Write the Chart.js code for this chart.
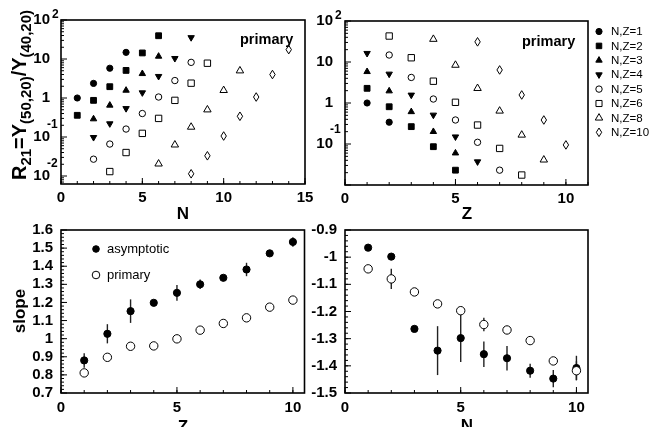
<!DOCTYPE html>
<html><head><meta charset="utf-8">
<script src="https://cdn.jsdelivr.net/npm/chart.js@4.4.1/dist/chart.umd.min.js"></script>
<style>
html,body{margin:0;padding:0;background:#fff;}
#wrap{position:relative;width:650px;height:427px;overflow:hidden;background:#fff;}
#wrap canvas{position:absolute;left:0;top:0;}
</style></head><body>
<div id="wrap">
<canvas id="cTL" width="650" height="427"></canvas>
<canvas id="cTR" width="650" height="427"></canvas>
<canvas id="cBL" width="650" height="427"></canvas>
<canvas id="cBR" width="650" height="427"></canvas>
</div>
<script>
// ---------- DATA ----------
const seriesLabels = ['N,Z=1','N,Z=2','N,Z=3','N,Z=4','N,Z=5','N,Z=6','N,Z=8','N,Z=10'];

// Top-left: R21 vs N, one series per Z
const tlN_Z1 = [1,2,3,4];            const tlR_Z1 = [1.0,2.37,5.8,14.8];
const tlN_Z2 = [1,2,3,4,5,6];        const tlR_Z2 = [0.36,0.87,1.95,5.1,14.3,39.5];
const tlN_Z3 = [2,3,4,5,6];          const tlR_Z3 = [0.29,0.65,1.57,4.2,11.7];
const tlN_Z4 = [2,3,4,5,6,7,8];      const tlR_Z4 = [0.098,0.22,0.54,1.37,3.6,10.4,35.6];
const tlN_Z5 = [2,3,4,5,6,7,8];      const tlR_Z5 = [0.027,0.066,0.16,0.4,1.06,2.8,8.2];
const tlN_Z6 = [3,4,5,6,7,8,9];      const tlR_Z6 = [0.013,0.04,0.124,0.3,0.87,2.4,7.8];
const tlN_Z8 = [6,7,8,9,10,11];      const tlR_Z8 = [0.0205,0.063,0.18,0.5,1.57,5.0];
const tlN_Z10 = [8,9,10,11,12,13,14]; const tlR_Z10 = [0.0114,0.033,0.106,0.34,1.06,4.0,17.4];

// Top-right: R21 vs Z, one series per N
const trZ_N1 = [1,2];               const trR_N1 = [1.0,0.34];
const trZ_N2 = [1,2,3,4,5];         const trR_N2 = [2.28,0.81,0.265,0.086,0.023];
const trZ_N3 = [1,2,3,4,5];         const trR_N3 = [5.8,1.96,0.61,0.2,0.06];
const trZ_N4 = [1,2,3,4,5,6];       const trR_N4 = [16.3,5.1,1.57,0.51,0.15,0.037];
const trZ_N5 = [2,3,4,5,6,7];       const trR_N5 = [14.8,4.2,1.25,0.385,0.11,0.023];
const trZ_N6 = [2,3,4,5,6,7,8];     const trR_N6 = [43,12.7,3.4,1.04,0.29,0.078,0.0175];
const trZ_N8 = [4,5,6,7,8,9];       const trR_N8 = [36,8.4,2.28,0.64,0.166,0.041];
const trZ_N10 = [6,7,8,9,10];       const trR_N10 = [31,6.4,1.57,0.385,0.095];

// Bottom-left: slope vs Z
const blZ = [1,2,3,4,5,6,7,8,9,10];
const blAsym = [0.88,1.027,1.152,1.198,1.253,1.30,1.336,1.382,1.471,1.534];
const blAsymErr = [0.04,0.053,0.065,0.01,0.043,0.026,0.01,0.037,0.01,0.026];
const blPrim = [0.811,0.897,0.958,0.96,0.999,1.047,1.084,1.115,1.174,1.213];
const blPrimErr = [0,0,0,0,0,0,0,0,0,0];

// Bottom-right: slope vs N
const brN = [1,2,3,4,5,6,7,8,9,10];
const brAsym = [-0.965,-0.998,-1.264,-1.344,-1.298,-1.357,-1.372,-1.418,-1.447,-1.408];
const brAsymErr = [0.005,0.005,0.008,0.09,0.088,0.047,0.045,0.026,0.032,0.045];
const brPrim = [-1.043,-1.08,-1.128,-1.172,-1.197,-1.248,-1.268,-1.307,-1.382,-1.418];
const brPrimErr = [0.005,0.037,0.005,0.005,0.005,0.025,0.005,0.005,0.005,0.035];

// Tick labels
const tlXTicks = [0,5,10,15];
const tlYTicks = [0.01,0.1,1,10,100];
const trXTicks = [0,5,10];
const trYTicks = [0.1,1,10,100];
const blXTicks = [0,5,10];
const blYTicks = [0.7,0.8,0.9,1,1.1,1.2,1.3,1.4,1.5,1.6];
const brXTicks = [0,5,10];
const brYTicks = [-1.5,-1.4,-1.3,-1.2,-1.1,-1,-0.9];

// ---------- STYLE ----------
const FONT = '"Liberation Sans", Arial, Helvetica, sans-serif';
Chart.defaults.font.family = FONT;
Chart.defaults.color = '#000';
Chart.defaults.animation = false;

function drawThinDiamond(ctx, x, y){
  ctx.save();
  ctx.fillStyle = '#fff'; ctx.strokeStyle = '#000'; ctx.lineWidth = 1;
  ctx.beginPath();
  ctx.moveTo(x, y - 4.3); ctx.lineTo(x + 2.7, y); ctx.lineTo(x, y + 4.3); ctx.lineTo(x - 2.7, y);
  ctx.closePath(); ctx.fill(); ctx.stroke();
  ctx.restore();
}
const MARK = [
  {ps:'circle', r:3.1, rot:0, fill:true},
  {ps:'rect', r:4.1, rot:0, fill:true},
  {ps:'triangle', r:3.7, rot:0, fill:true},
  {ps:'triangle', r:3.7, rot:180, fill:true},
  {ps:'circle', r:3.2, rot:0, fill:false},
  {ps:'rect', r:4.5, rot:0, fill:false},
  {ps:'triangle', r:4.3, rot:0, fill:false},
  {ps:'rectRot', r:0, rot:0, fill:false, thin:true}
];
function ds(label, xs, ys, m, extra){
  return Object.assign({
    label, data: xs.map((x,i)=>({x, y: ys[i]})),
    pointStyle: m.ps, pointRadius: m.r, pointHoverRadius: m.r, pointRotation: m.rot,
    backgroundColor: m.fill ? '#000' : '#fff', borderColor:'#000', pointBorderWidth: 1,
    showLine: false, thinDiamond: !!m.thin
  }, extra || {});
}

// ---------- PLUGINS ----------
const framePlugin = {
  id: 'frame',
  beforeDatasetsDraw(chart){
    const {ctx} = chart;
    ctx.save(); ctx.strokeStyle = '#222'; ctx.lineWidth = 1.4;
    chart.data.datasets.forEach((d,i)=>{
      if(!d.errs) return;
      const meta = chart.getDatasetMeta(i), ys = chart.scales.y;
      meta.data.forEach((el,j)=>{
        const e = d.errs[j]; if(!e) return;
        const v = d.data[j].y;
        ctx.beginPath();
        ctx.moveTo(el.x, ys.getPixelForValue(v - e));
        ctx.lineTo(el.x, ys.getPixelForValue(v + e));
        ctx.stroke();
      });
    });
    ctx.restore();
  },
  afterDatasetsDraw(chart, args, o){
    const {ctx, chartArea:a, scales:{x,y}} = chart;
    // thin diamonds, placed at the library's computed point positions
    chart.data.datasets.forEach((d,i)=>{
      if(!d.thinDiamond) return;
      chart.getDatasetMeta(i).data.forEach(el=>drawThinDiamond(ctx, el.x, el.y));
    });
    ctx.save(); ctx.strokeStyle = '#000'; ctx.lineWidth = 1;
    const ln = (x1,y1,x2,y2)=>{ctx.beginPath();ctx.moveTo(x1,y1);ctx.lineTo(x2,y2);ctx.stroke();};
    (o.xMinor||[]).forEach(v=>{const p=x.getPixelForValue(v); ln(p,a.bottom,p,a.bottom-3);});
    (o.xMajor||[]).forEach(v=>{const p=x.getPixelForValue(v); ln(p,a.bottom,p,a.bottom-6);});
    (o.yMinor||[]).forEach(v=>{const p=y.getPixelForValue(v); if(p>a.top&&p<a.bottom) ln(a.left,p,a.left+3,p);});
    (o.yMajor||[]).forEach(v=>{const p=y.getPixelForValue(v); ln(a.left,p,a.left+6,p);});
    ctx.lineWidth = 1.6;
    ctx.strokeRect(a.left, a.top, a.right-a.left, a.bottom-a.top);
    ctx.restore();
  }
};

const textPlugin = {
  id: 'texts',
  afterDraw(chart, args, o){
    const {ctx, chartArea:a} = chart;
    ctx.save(); ctx.fillStyle = '#000';
    if(o.logExp){
      const ys = chart.scales.y; const right = a.left - o.logExp.pad;
      ctx.font = 'bold 12px ' + FONT; ctx.textBaseline = 'middle'; ctx.textAlign = 'left';
      ys.ticks.forEach(t=>{
        const e = Math.round(Math.log10(t.value));
        if(e === 0 || e === 1) return;
        const p = ys.getPixelForValue(t.value);
        if(e > 1) ctx.fillText(String(e), right + 2, p - 5);
        else ctx.fillText(String(e), right - 3, p - o.logExp.negDy);
      });
    }
    (o.items||[]).forEach(it=>{
      ctx.save();
      ctx.font = it.font; ctx.textAlign = it.align||'left'; ctx.textBaseline = it.baseline||'alphabetic';
      ctx.translate(it.x, it.y);
      if(it.rot) ctx.rotate(it.rot);
      ctx.fillText(it.text, 0, 0);
      ctx.restore();
    });
    if(o.rtitle){
      const t = o.rtitle;
      let total = 0;
      t.parts.forEach(p=>{ctx.font = (p.sub?t.subFont:t.mainFont); p.w = ctx.measureText(p.text).width; total += p.w;});
      ctx.save();
      ctx.translate(t.x, t.cy); ctx.rotate(-Math.PI/2);
      let cx = -total/2;
      ctx.textAlign = 'left'; ctx.textBaseline = 'alphabetic';
      t.parts.forEach(p=>{
        ctx.font = (p.sub?t.subFont:t.mainFont);
        ctx.fillText(p.text, cx, p.sub ? t.subDy : 0);
        cx += p.w;
      });
      ctx.restore();
    }
    if(o.legend){
      const L = o.legend;
      ctx.font = L.font; ctx.textAlign = 'left'; ctx.textBaseline = 'middle';
      L.entries.forEach((en,i)=>{
        const d = chart.data.datasets[en.ds];
        const yy = L.y0 + i*L.dy;
        if(d.thinDiamond){ drawThinDiamond(ctx, L.mx, yy); }
        else {
          ctx.fillStyle = d.backgroundColor; ctx.strokeStyle = '#000'; ctx.lineWidth = 1;
          Chart.helpers.drawPoint(ctx, {pointStyle:d.pointStyle, rotation:d.pointRotation, radius:(en.r||d.pointRadius), borderWidth:1}, L.mx, yy);
        }
        ctx.fillStyle = '#000';
        ctx.font = L.font; ctx.textAlign = 'left'; ctx.textBaseline = 'middle';
        ctx.fillText(en.text, L.tx, yy + 0.5);
      });
    }
    ctx.restore();
  }
};

function fmtLin(v){ return String(Math.round(v*10)/10); }
function fmtLog(v){ return Math.round(Math.log10(v)) === 0 ? '1' : '10'; }

function linMinor(lo, hi, step){ const out=[]; const n=Math.round((hi-lo)/step); for(let i=0;i<=n;i++) out.push(lo+i*step); return out; }
function logMinor(lo, hi){ const out=[]; for(let e=-3;e<=2;e++) for(let m=2;m<=9;m++){const v=m*Math.pow(10,e); if(v>lo&&v<hi) out.push(v);} return out; }

function makeChart(id, area, xs, ys, datasets, frame, texts){
  const W = 650, H = 427;
  return new Chart(document.getElementById(id), {
    type: 'scatter',
    data: { datasets },
    options: {
      responsive: false, animation: false,
      layout: { padding: { left: 0, top: area.T, right: W - area.R, bottom: 0 } },
      plugins: { legend:{display:false}, tooltip:{enabled:false}, frame, texts },
      events: [],
      scales: {
        x: Object.assign({
          type: 'linear', position: 'bottom',
          grid: {display:false, drawTicks:false}, border:{display:false},
          afterFit: s => { s.height = H - area.B; },
          afterBuildTicks: s => { s.ticks = xs.ticks.map(v=>({value:v})); },
          ticks: { autoSkip:false, maxRotation:0, padding: xs.pad, font:{size:15, weight:'bold'}, color:'#000', callback: v => String(v) }
        }, xs.opt),
        y: Object.assign({
          position: 'left',
          grid: {display:false, drawTicks:false}, border:{display:false},
          afterFit: s => { s.width = area.L; },
          afterBuildTicks: s => { s.ticks = ys.ticks.map(v=>({value:v})); },
          ticks: { autoSkip:false, padding: ys.pad, font:{size:15, weight:'bold'}, color:'#000', callback: ys.fmt }
        }, ys.opt)
      }
    },
    plugins: [framePlugin, textPlugin]
  });
}

const BOLD17 = 'bold 17px ' + FONT;
const PRIM = 'bold 14.5px ' + FONT;

// ---------- TOP LEFT ----------
const tlData = [
  ds(seriesLabels[0], tlN_Z1, tlR_Z1, MARK[0]),
  ds(seriesLabels[1], tlN_Z2, tlR_Z2, MARK[1]),
  ds(seriesLabels[2], tlN_Z3, tlR_Z3, MARK[2]),
  ds(seriesLabels[3], tlN_Z4, tlR_Z4, MARK[3]),
  ds(seriesLabels[4], tlN_Z5, tlR_Z5, MARK[4]),
  ds(seriesLabels[5], tlN_Z6, tlR_Z6, MARK[5]),
  ds(seriesLabels[6], tlN_Z8, tlR_Z8, MARK[6]),
  ds(seriesLabels[7], tlN_Z10, tlR_Z10, MARK[7])
];
makeChart('cTL', {L:61, T:20, R:305, B:184},
  {ticks: tlXTicks, pad: 5, opt:{min:0, max:15}},
  {ticks: tlYTicks, pad: 11, fmt: fmtLog, opt:{type:'logarithmic', min:0.00624, max:100}},
  tlData,
  {xMajor: tlXTicks, xMinor: linMinor(0,15,1), yMajor: tlYTicks, yMinor: logMinor(0.00624,100)},
  {
    logExp: {pad: 11, negDy: 12},
    items: [
      {text:'primary', x:240, y:44, font: PRIM},
      {text:'N', x:183, y:219, font: BOLD17, align:'center'}
    ],
    rtitle: {x:26, cy:95, mainFont:'bold 20px '+FONT, subFont:'bold 15px '+FONT, subDy:5,
      parts:[{text:'R'},{text:'21',sub:true},{text:'=Y'},{text:'(50,20)',sub:true},{text:'/Y'},{text:'(40,20)',sub:true}]}
  }
);

// ---------- TOP RIGHT ----------
const trData = [
  ds(seriesLabels[0], trZ_N1, trR_N1, MARK[0]),
  ds(seriesLabels[1], trZ_N2, trR_N2, MARK[1]),
  ds(seriesLabels[2], trZ_N3, trR_N3, MARK[2]),
  ds(seriesLabels[3], trZ_N4, trR_N4, MARK[3]),
  ds(seriesLabels[4], trZ_N5, trR_N5, MARK[4]),
  ds(seriesLabels[5], trZ_N6, trR_N6, MARK[5]),
  ds(seriesLabels[6], trZ_N8, trR_N8, MARK[6]),
  ds(seriesLabels[7], trZ_N10, trR_N10, MARK[7])
];
makeChart('cTR', {L:345, T:20, R:588, B:185},
  {ticks: trXTicks, pad: 5, opt:{min:0, max:11}},
  {ticks: trYTicks, pad: 12, fmt: fmtLog, opt:{type:'logarithmic', min:0.01, max:100}},
  trData,
  {xMajor: trXTicks, xMinor: linMinor(0,11,1), yMajor: [0.01,0.1,1,10,100], yMinor: logMinor(0.01,100)},
  {
    logExp: {pad: 12, negDy: 14},
    items: [
      {text:'primary', x:522, y:46, font: PRIM},
      {text:'Z', x:467, y:219, font: BOLD17, align:'center'}
    ],
    legend: {font:'11.5px '+FONT, mx:599, tx:611, y0:31.5, dy:14.4,
      entries: seriesLabels.map((t,i)=>({text:t, ds:i, r:(i===1?3.9:(i===5?4.3:undefined))}))}
  }
);

// ---------- BOTTOM LEFT ----------
const blData = [
  ds('asymptotic', blZ, blAsym, {ps:'circle', r:3.6, rot:0, fill:true}, {errs: blAsymErr}),
  ds('primary', blZ, blPrim, {ps:'circle', r:4.2, rot:0, fill:false}, {errs: blPrimErr})
];
makeChart('cBL', {L:61, T:230, R:304.5, B:393},
  {ticks: blXTicks, pad: 6, opt:{min:0, max:10.5}},
  {ticks: blYTicks, pad: 8, fmt: fmtLin, opt:{type:'linear', min:0.7, max:1.6}},
  blData,
  {xMajor: blXTicks, xMinor: linMinor(0,10,1), yMajor: blYTicks, yMinor: linMinor(0.7,1.6,0.02)},
  {
    items: [
      {text:'Z', x:183, y:432, font: BOLD17, align:'center'},
      {text:'slope', x:25, y:311, font: BOLD17, align:'center', rot:-Math.PI/2}
    ],
    legend: {font:'13px '+FONT, mx:96, tx:107, y0:249, dy:26,
      entries:[{text:'asymptotic', ds:0, r:3.3},{text:'primary', ds:1, r:3.8}]}
  }
);

// ---------- BOTTOM RIGHT ----------
const brData = [
  ds('primary', brN, brPrim, {ps:'circle', r:4.2, rot:0, fill:false}, {errs: brPrimErr}),
  ds('asymptotic', brN, brAsym, {ps:'circle', r:3.6, rot:0, fill:true}, {errs: brAsymErr})
];
makeChart('cBR', {L:345, T:230, R:588, B:393},
  {ticks: brXTicks, pad: 6, opt:{min:0, max:10.5}},
  {ticks: brYTicks, pad: 8, fmt: fmtLin, opt:{type:'linear', min:-1.5, max:-0.9}},
  brData,
  {xMajor: brXTicks, xMinor: linMinor(0,10,1), yMajor: brYTicks, yMinor: linMinor(-1.5,-0.9,0.02)},
  {
    items: [
      {text:'N', x:467, y:431, font: BOLD17, align:'center'}
    ]
  }
);
</script>
</body></html>
